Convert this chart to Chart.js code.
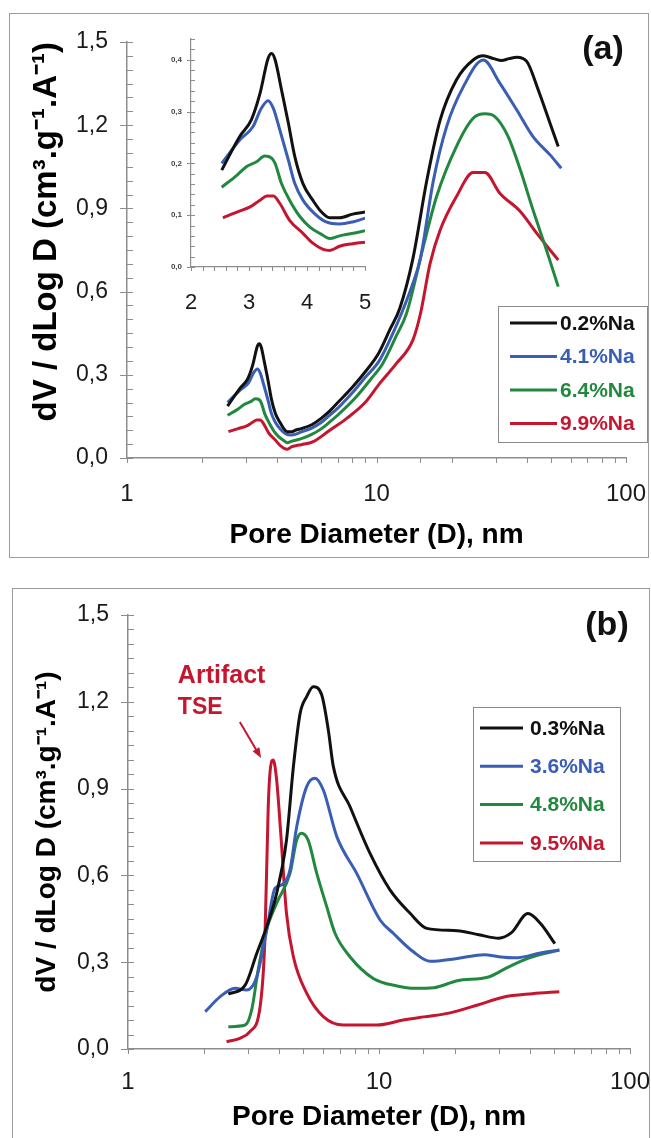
<!DOCTYPE html>
<html>
<head>
<meta charset="utf-8">
<script src="https://cdn.jsdelivr.net/npm/chart.js@4.4.1/dist/chart.umd.min.js"></script>
<style>
  html, body { margin: 0; padding: 0; background: #fff; overflow: hidden; }
  body { width: 651px; height: 1138px; position: relative; }
  .panel { position: absolute; border: 1px solid #9b9b9b; background: #fff; }
  #panelA { left: 9px; top: 13px; width: 638px; height: 543px; }
  #panelB { left: 12px; top: 588px; width: 636px; height: 560px; }
  .panel canvas { position: absolute; left: 0; top: 0; }
  #inset { position: absolute; left: 140px; top: 30px; z-index: 2; }
</style>
</head>
<body>
<div class="panel" id="panelA"><canvas id="chartA" width="638" height="543"></canvas></div>
<canvas id="inset" width="240" height="290"></canvas>
<div class="panel" id="panelB"><canvas id="chartB" width="636" height="560"></canvas></div>
<script>
// ---- data, panel (a) : pore diameter (nm) / dV/dlogD ----
const aLabels = ['0.2%Na', '4.1%Na', '6.4%Na', '9.9%Na'];
const aD0 = [2.53, 2.84, 3.04, 3.19, 3.33, 3.39, 3.45, 3.56, 3.68, 3.79, 3.93, 4.1, 4.25, 4.39, 4.56, 4.79, 5.0, 5.5, 6.0, 6.5, 7.0, 8.0, 9.0, 10.2, 11.3, 12.4, 14.0, 15.9, 18.0, 20.9, 24.4, 26.8, 29.5, 31.7, 34.0, 36.5, 40.0, 44.5, 49.6, 53.5];
const aV0 = [0.187, 0.252, 0.284, 0.335, 0.403, 0.412, 0.400, 0.342, 0.277, 0.213, 0.161, 0.129, 0.106, 0.095, 0.095, 0.102, 0.106, 0.120, 0.143, 0.170, 0.200, 0.255, 0.310, 0.378, 0.462, 0.540, 0.720, 1.000, 1.219, 1.363, 1.435, 1.450, 1.440, 1.433, 1.440, 1.445, 1.430, 1.327, 1.207, 1.123];
const aD1 = [2.53, 2.84, 3.07, 3.21, 3.33, 3.42, 3.53, 3.68, 3.79, 3.93, 4.13, 4.33, 4.56, 4.79, 5.0, 5.5, 6.0, 6.5, 7.0, 8.0, 9.0, 10.3, 11.8, 12.6, 14.0, 15.0, 16.9, 19.1, 22.3, 26.8, 31.2, 36.5, 42.4, 49.6, 55.0];
const aV1 = [0.200, 0.245, 0.271, 0.306, 0.321, 0.306, 0.265, 0.206, 0.161, 0.129, 0.103, 0.087, 0.083, 0.087, 0.094, 0.108, 0.128, 0.155, 0.180, 0.235, 0.290, 0.353, 0.462, 0.522, 0.630, 0.720, 1.000, 1.195, 1.339, 1.435, 1.352, 1.255, 1.159, 1.093, 1.045];
const aD2 = [2.53, 2.79, 2.96, 3.13, 3.27, 3.39, 3.45, 3.56, 3.70, 3.88, 4.05, 4.25, 4.39, 4.56, 4.79, 5.0, 5.5, 6.0, 6.5, 7.0, 8.3, 9.5, 10.6, 12.0, 13.2, 15.4, 17.4, 20.9, 24.4, 27.2, 29.8, 33.7, 37.7, 42.4, 48.0, 53.5];
const aV2 = [0.154, 0.177, 0.194, 0.203, 0.214, 0.210, 0.200, 0.161, 0.129, 0.097, 0.077, 0.063, 0.055, 0.060, 0.065, 0.070, 0.085, 0.105, 0.130, 0.155, 0.221, 0.285, 0.341, 0.440, 0.522, 0.762, 0.942, 1.123, 1.225, 1.241, 1.231, 1.159, 1.039, 0.894, 0.750, 0.618];
const aD3 = [2.55, 2.79, 3.02, 3.19, 3.31, 3.42, 3.53, 3.70, 3.93, 4.10, 4.28, 4.39, 4.56, 4.79, 5.0, 5.58, 6.5, 7.6, 9.0, 10.3, 12.0, 14.0, 15.0, 16.4, 18.0, 20.9, 24.4, 27.2, 31.2, 37.7, 43.9, 53.5];
const aV3 = [0.095, 0.106, 0.116, 0.129, 0.137, 0.137, 0.123, 0.090, 0.065, 0.046, 0.034, 0.032, 0.040, 0.045, 0.048, 0.059, 0.100, 0.143, 0.200, 0.269, 0.340, 0.426, 0.520, 0.702, 0.822, 0.942, 1.029, 1.029, 0.955, 0.889, 0.810, 0.714];

// ---- data, panel (b) ----
const bLabels = ['0.3%Na', '3.6%Na', '4.8%Na', '9.5%Na'];
const bD0 = [2.51, 2.93, 3.26, 3.57, 3.91, 4.28, 4.56, 4.85, 5.15, 5.47, 5.91, 6.28, 6.58, 7.66, 9.21, 11.06, 13.3, 15.5, 20.5, 25.0, 30.0, 33.7, 39.2, 44.0, 50.2];
const bV0 = [0.190, 0.221, 0.331, 0.423, 0.538, 0.722, 0.976, 1.160, 1.218, 1.252, 1.224, 1.103, 0.976, 0.838, 0.676, 0.550, 0.469, 0.417, 0.409, 0.395, 0.383, 0.402, 0.468, 0.434, 0.364];
const bD1 = [2.03, 2.33, 2.67, 2.97, 3.26, 3.57, 3.85, 4.09, 4.42, 4.70, 5.15, 5.56, 6.00, 6.79, 8.15, 10.1, 11.4, 13.7, 16.0, 20.5, 26.3, 30.0, 35.0, 44.0, 52.3];
const bV1 = [0.129, 0.181, 0.210, 0.204, 0.250, 0.411, 0.555, 0.567, 0.619, 0.768, 0.907, 0.936, 0.895, 0.734, 0.607, 0.446, 0.400, 0.336, 0.303, 0.313, 0.326, 0.319, 0.315, 0.332, 0.342];
const bD2 = [2.51, 2.93, 3.11, 3.30, 3.53, 3.91, 4.42, 4.70, 4.91, 5.22, 5.65, 6.19, 6.68, 7.66, 9.49, 11.8, 13.9, 16.5, 20.5, 27.3, 32.4, 39.2, 52.3];
const bV2 = [0.077, 0.083, 0.135, 0.273, 0.400, 0.504, 0.607, 0.722, 0.746, 0.722, 0.607, 0.492, 0.400, 0.319, 0.244, 0.218, 0.210, 0.212, 0.236, 0.249, 0.281, 0.313, 0.342];
const bD3 = [2.47, 2.79, 3.06, 3.36, 3.51, 3.62, 3.70, 3.79, 3.91, 4.06, 4.28, 4.56, 5.15, 6.0, 7.2, 9.79, 12.5, 15.1, 19.0, 24.9, 31.2, 40.8, 52.3];
const bV3 = [0.025, 0.037, 0.060, 0.146, 0.377, 0.838, 0.976, 0.999, 0.930, 0.746, 0.469, 0.319, 0.193, 0.112, 0.083, 0.083, 0.100, 0.111, 0.124, 0.153, 0.179, 0.191, 0.198];

// artifact note in panel (b), data coordinates
const artifactText = ['Artifact', 'TSE'];
const artifactTextAt = [[1.58, 1.265], [1.58, 1.158]];
const artifactArrow = [[2.79, 1.13], [3.39, 1.006]];

const colors = ['#111111', '#3a5eb4', '#23883f', '#c4162f'];
const axisColor = '#8d8d8d';
const fontFamily = '"Liberation Sans", Arial, Helvetica, sans-serif';
const yTitle = 'dV / dLog D (cm³.g⁻¹.A⁻¹)';

function commaLabel(every, digits) {
  return v => {
    const k = v / every;
    return Math.abs(k - Math.round(k)) < 1e-6 ? v.toFixed(digits).replace('.', ',') : '';
  };
}

function decadeLabel(v) {
  const l = Math.log10(v);
  return Math.abs(l - Math.round(l)) < 1e-6 ? String(Math.round(v)) : '';
}

function series(labels, xs, ys) {
  return labels.map((label, i) => ({
    label,
    data: xs[i].map((x, j) => ({ x, y: ys[i][j] })),
    borderColor: colors[i],
    borderWidth: 3,
    pointRadius: 0,
    fill: false,
    cubicInterpolationMode: 'monotone'
  }));
}

// small tick marks: majors cross the y axis, minors point inside
const tickMarks = {
  id: 'tickMarks',
  afterDraw(chart, args, o) {
    const { ctx, chartArea: a } = chart;
    const { x, y } = chart.scales;
    ctx.save();
    ctx.strokeStyle = axisColor;
    ctx.lineWidth = 1;
    ctx.beginPath();
    x.ticks.forEach(t => {
      const px = Math.round(x.getPixelForValue(t.value)) + 0.5;
      ctx.moveTo(px, a.bottom);
      ctx.lineTo(px, a.bottom + o.xLen);
    });
    y.ticks.forEach(t => {
      const py = Math.round(y.getPixelForValue(t.value)) + 0.5;
      ctx.moveTo(a.left - (t.label !== '' ? o.yOut : 0), py);
      ctx.lineTo(a.left + o.yIn, py);
    });
    ctx.stroke();
    ctx.restore();
  }
};

// panel letter, boxed legend and the artifact note
const decor = {
  id: 'decor',
  afterDraw(chart, args, o) {
    const { ctx } = chart;
    const { x, y } = chart.scales;
    ctx.save();
    ctx.fillStyle = '#111';
    ctx.font = 'bold 34px ' + fontFamily;
    ctx.textAlign = 'center';
    ctx.textBaseline = 'middle';
    ctx.fillText(o.tag, o.tagPos[0], o.tagPos[1]);

    const L = o.legend;
    ctx.strokeStyle = '#8a8a8a';
    ctx.lineWidth = 1;
    ctx.strokeRect(L.box[0] + 0.5, L.box[1] + 0.5, L.box[2], L.box[3]);
    ctx.font = 'bold 21px ' + fontFamily;
    ctx.textAlign = 'left';
    chart.data.datasets.forEach((ds, i) => {
      const cy = L.box[1] + L.first + i * L.gap;
      ctx.strokeStyle = ds.borderColor;
      ctx.lineWidth = 3;
      ctx.beginPath();
      ctx.moveTo(L.box[0] + L.line[0], cy);
      ctx.lineTo(L.box[0] + L.line[1], cy);
      ctx.stroke();
      ctx.fillStyle = ds.borderColor;
      ctx.fillText(ds.label, L.box[0] + L.textX, cy + 1);
    });

    if (o.note) {
      const n = o.note;
      ctx.fillStyle = n.color;
      ctx.strokeStyle = n.color;
      ctx.textBaseline = 'alphabetic';
      ctx.font = 'bold 25px ' + fontFamily;
      ctx.fillText(n.text[0], x.getPixelForValue(n.at[0][0]), y.getPixelForValue(n.at[0][1]));
      ctx.font = 'bold 23px ' + fontFamily;
      ctx.fillText(n.text[1], x.getPixelForValue(n.at[1][0]), y.getPixelForValue(n.at[1][1]));
      const x0 = x.getPixelForValue(n.arrow[0][0]), y0 = y.getPixelForValue(n.arrow[0][1]);
      const x1 = x.getPixelForValue(n.arrow[1][0]), y1 = y.getPixelForValue(n.arrow[1][1]);
      const ang = Math.atan2(y1 - y0, x1 - x0), c = Math.cos(ang), s = Math.sin(ang);
      ctx.lineWidth = 2;
      ctx.beginPath();
      ctx.moveTo(x0, y0);
      ctx.lineTo(x1 - 7 * c, y1 - 7 * s);
      ctx.stroke();
      ctx.beginPath();
      ctx.moveTo(x1, y1);
      ctx.lineTo(x1 - 10 * c + 4 * s, y1 - 10 * s - 4 * c);
      ctx.lineTo(x1 - 10 * c - 4 * s, y1 - 10 * s + 4 * c);
      ctx.closePath();
      ctx.fill();
    }
    ctx.restore();
  }
};

function mainChart(id, datasets, g, extra) {
  return new Chart(document.getElementById(id), {
    type: 'line',
    data: { datasets },
    options: {
      responsive: false,
      animation: false,
      events: [],
      layout: { padding: { left: 0, top: g.top, right: g.right, bottom: 0 } },
      plugins: {
        legend: { display: false },
        tooltip: { enabled: false },
        tickMarks: { xLen: 5, yOut: 7, yIn: 6 },
        decor: extra
      },
      scales: {
        x: {
          type: 'logarithmic',
          min: 1,
          max: 100,
          grid: { display: false, drawTicks: false },
          border: { color: axisColor, width: 1.5 },
          ticks: {
            autoSkip: false, maxRotation: 0, padding: g.xPad,
            color: '#1a1a1a', font: { family: fontFamily, size: 24 },
            callback: decadeLabel
          },
          title: {
            display: true, text: 'Pore Diameter (D), nm', color: '#000',
            font: { family: fontFamily, size: 28, weight: 'bold' },
            padding: { top: 0, bottom: g.xTitlePad }
          },
          afterFit: s => { s.height = g.xH; s.paddingLeft = 0; s.paddingRight = 0; }
        },
        y: {
          min: 0,
          max: 1.5,
          grid: { display: false, drawTicks: false },
          border: { color: axisColor, width: 1.5 },
          ticks: {
            stepSize: 0.05, autoSkip: false, padding: 19,
            color: '#1a1a1a', font: { family: fontFamily, size: 23 },
            callback: commaLabel(0.3, 1)
          },
          title: {
            display: true, text: yTitle, align: g.yTitleAlign, color: '#000',
            font: { family: fontFamily, size: g.yTitleSize, weight: 'bold' },
            padding: { top: g.yTitlePad, bottom: 0 }
          },
          afterFit: s => { s.width = g.yW; s.paddingTop = 0; s.paddingBottom = 0; }
        }
      }
    },
    plugins: [tickMarks, decor]
  });
}

const aSets = series(aLabels, [aD0, aD1, aD2, aD3], [aV0, aV1, aV2, aV3]);
const bSets = series(bLabels, [bD0, bD1, bD2, bD3], [bV0, bV1, bV2, bV3]);

mainChart('chartA', aSets,
  { top: 28, right: 22, yW: 117, xH: 99, xPad: 22, xTitlePad: 5,
    yTitlePad: 17, yTitleSize: 33, yTitleAlign: 'end' },
  { tag: '(a)', tagPos: [593, 36],
    legend: { box: [488, 292, 149, 136], first: 17, gap: 33.5, line: [12, 59], textX: 62 } });

mainChart('chartB', bSets,
  { top: 26, right: 19, yW: 115, xH: 100, xPad: 19, xTitlePad: 15,
    yTitlePad: 17, yTitleSize: 28, yTitleAlign: 'center' },
  { tag: '(b)', tagPos: [594, 37],
    legend: { box: [460, 118, 147, 154], first: 21, gap: 38.3, line: [7, 50], textX: 57 },
    note: { text: artifactText, at: artifactTextAt, arrow: artifactArrow, color: '#c4162f' } });

// inset of panel (a): same curves between 2 and 5 nm
new Chart(document.getElementById('inset'), {
  type: 'line',
  data: { datasets: series(aLabels, [aD0, aD1, aD2, aD3], [aV0, aV1, aV2, aV3]) },
  options: {
    responsive: false,
    animation: false,
    events: [],
    layout: { padding: { left: 0, top: 9, right: 15, bottom: 0 } },
    plugins: {
      legend: { display: false },
      tooltip: { enabled: false },
      tickMarks: { xLen: 4, yOut: 4, yIn: 4 }
    },
    scales: {
      x: {
        type: 'linear', min: 2, max: 5,
        grid: { display: false, drawTicks: false },
        border: { color: axisColor, width: 1.2 },
        ticks: {
          stepSize: 0.2, autoSkip: false, maxRotation: 0, padding: 23,
          color: '#1a1a1a', font: { family: fontFamily, size: 22 },
          callback: commaLabel(1, 0)
        },
        afterFit: s => { s.height = 53; s.paddingLeft = 0; s.paddingRight = 0; }
      },
      y: {
        min: 0, max: 0.44,
        grid: { display: false, drawTicks: false },
        border: { color: axisColor, width: 1.2 },
        ticks: {
          stepSize: 0.02, autoSkip: false, padding: 9,
          color: '#444', font: { family: fontFamily, size: 8, weight: 'bold' },
          callback: commaLabel(0.1, 1)
        },
        afterFit: s => { s.width = 51; s.paddingTop = 0; s.paddingBottom = 0; }
      }
    }
  },
  plugins: [tickMarks]
});
</script>
</body>
</html>
